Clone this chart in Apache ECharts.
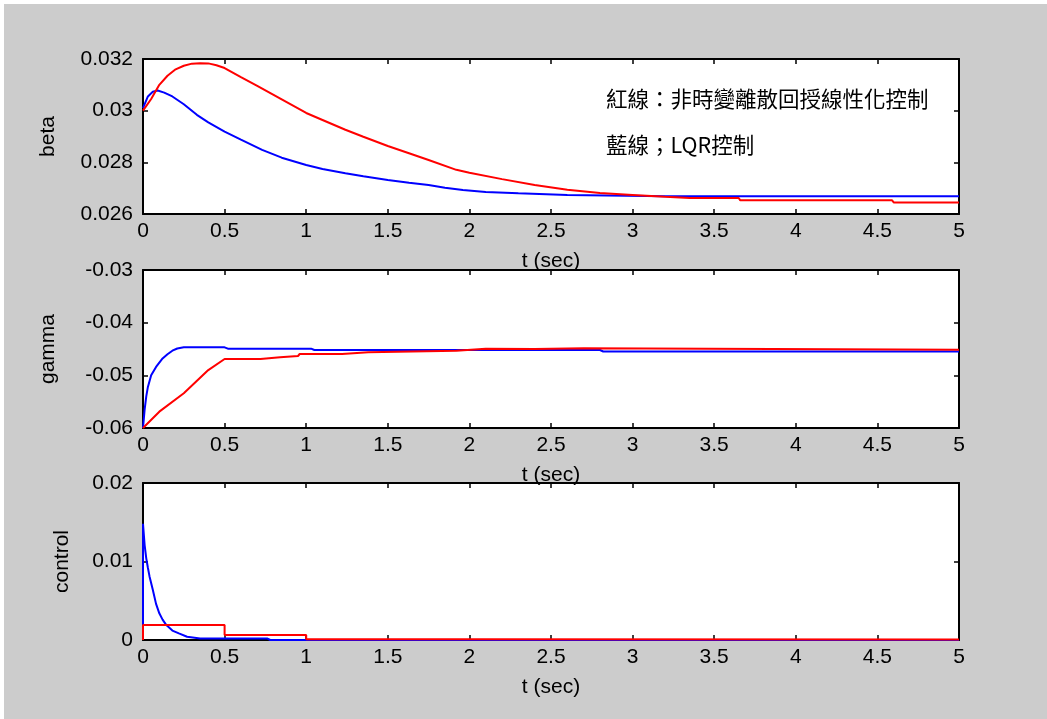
<!DOCTYPE html>
<html>
<head>
<meta charset="utf-8">
<script src="https://cdn.jsdelivr.net/npm/echarts@6/dist/echarts.min.js"></script>
<style>
html,body{margin:0;padding:0;background:#ffffff;}
#chart{position:absolute;left:0;top:0;width:1043px;height:715px;border-left:4px solid #fff;border-top:4px solid #fff;background:#cccccc;}
</style>
</head>
<body>
<div id="chart"></div>
<script>
// ---- data (time in sec) ----
const tBetaRed  = [0, 0.05, 0.1, 0.15, 0.2, 0.25, 0.3, 0.35, 0.4, 0.45, 0.5, 0.6, 0.7, 0.8, 0.9, 1.0, 1.1, 1.24, 1.35, 1.5, 1.63, 1.75, 1.92, 2.0, 2.2, 2.4, 2.6, 2.8, 3.0, 3.2, 3.35, 3.65, 3.66, 4.59, 4.6, 5.0];
const betaRed   = [0.0300, 0.03045, 0.03100, 0.03135, 0.03160, 0.03174, 0.03182, 0.03184, 0.03183, 0.03176, 0.03165, 0.03130, 0.03096, 0.03061, 0.03026, 0.02991, 0.02964, 0.02926, 0.02899, 0.02863, 0.02835, 0.02809, 0.02771, 0.02760, 0.02735, 0.02712, 0.02694, 0.02681, 0.02674, 0.02667, 0.02662, 0.02662, 0.02653, 0.02653, 0.02645, 0.02645];
const tBetaBlue = [0, 0.03, 0.06, 0.09, 0.13, 0.18, 0.25, 0.33, 0.4, 0.5, 0.6, 0.73, 0.85, 1.0, 1.1, 1.24, 1.35, 1.5, 1.63, 1.75, 1.85, 1.96, 2.1, 2.3, 2.6, 3.2, 5.0];
const betaBlue  = [0.0301, 0.03055, 0.03073, 0.03078, 0.03070, 0.03055, 0.03025, 0.02984, 0.02955, 0.02919, 0.02888, 0.02848, 0.02818, 0.02790, 0.02774, 0.02758, 0.02746, 0.02732, 0.02721, 0.02712, 0.02702, 0.02693, 0.02685, 0.02680, 0.02674, 0.02669, 0.02669];

const tGamRed   = [0, 0.1, 0.25, 0.4, 0.5, 0.72, 0.73, 0.84, 0.85, 0.95, 0.96, 1.22, 1.23, 1.38, 1.39, 1.92, 1.93, 2.1, 2.11, 2.4, 2.41, 2.7, 2.71, 5.0];
const gamRed    = [-0.0600, -0.0569, -0.0534, -0.0490, -0.0469, -0.0469, -0.04658, -0.04658, -0.04633, -0.04633, -0.04595, -0.04595, -0.04562, -0.04562, -0.04532, -0.04532, -0.04495, -0.04495, -0.0450, -0.0450, -0.04488, -0.04488, -0.04515, -0.04515];
const tGamBlue  = [0, 0.01, 0.02, 0.03, 0.05, 0.08, 0.12, 0.15, 0.18, 0.21, 0.25, 0.5, 0.52, 1.03, 1.05, 2.8, 2.82, 5.0];
const gamBlue   = [-0.0600, -0.0565, -0.0540, -0.0522, -0.0500, -0.0484, -0.0468, -0.0460, -0.04532, -0.0449, -0.04468, -0.04468, -0.04494, -0.04494, -0.04519, -0.04519, -0.04548, -0.04548];

const tCtrlRed  = [0, 0, 0.5, 0.5, 1.0, 1.0, 2.0, 2.0, 5.0];
const ctrlRed   = [0, 0.0019, 0.0019, 0.00064, 0.00064, 0.0001, 0.0001, 0.00005, 0.00005];
const tCtrlBlue = [0, 0, 0.01, 0.02, 0.03, 0.04, 0.06, 0.08, 0.1, 0.12, 0.143, 0.18, 0.22, 0.27, 0.35, 0.76, 0.78, 5.0];
const ctrlBlue  = [0, 0.0148, 0.0121, 0.0104, 0.0092, 0.0081, 0.0064, 0.0046, 0.0034, 0.0026, 0.0019, 0.0012, 0.00085, 0.00042, 0.0002, 0.0002, 0, 0];

const xTicks = { min: 0, max: 5, interval: 0.5 };
const yAxesDef = [
  { name: 'beta',    min: 0.026, max: 0.032, interval: 0.002, gap: 84 },
  { name: 'gamma',   min: -0.06, max: -0.03, interval: 0.01,  gap: 84 },
  { name: 'control', min: 0,     max: 0.02,  interval: 0.01,  gap: 70 }
];
const legendLines = ['紅線：非時變離散回授線性化控制', '藍線；LQR控制'];

// ---- chart ----
const pair = (ts, vs) => ts.map((t, i) => [t, vs[i]]);
const FONT = 'Liberation Sans, Arial, sans-serif';
const FS = 21;
const grids = [
  { left: 139, top: 55,  width: 816, height: 155 },
  { left: 139, top: 266, width: 816, height: 158 },
  { left: 139, top: 479, width: 816, height: 157 }
];
const lineStyle = { color: '#000', width: 2 };
const tickStyle = { show: true, inside: true, length: 5, lineStyle: { color: '#000', width: 1.5 } };

const xAxis = [], yAxis = [];
grids.forEach((g, i) => {
  xAxis.push({
    type: 'value', gridIndex: i, position: 'bottom', min: xTicks.min, max: xTicks.max, interval: xTicks.interval,
    name: 't (sec)', nameLocation: 'middle', nameGap: 37,
    nameTextStyle: { fontFamily: FONT, fontSize: FS, color: '#000' },
    axisLine: { show: true, onZero: false, lineStyle }, axisTick: tickStyle,
    axisLabel: { fontFamily: FONT, fontSize: FS, color: '#000', margin: 7 },
    splitLine: { show: false }
  });
  xAxis.push({
    type: 'value', gridIndex: i, position: 'top', min: xTicks.min, max: xTicks.max, interval: xTicks.interval,
    axisLine: { show: true, onZero: false, lineStyle }, axisTick: tickStyle,
    axisLabel: { show: false }, splitLine: { show: false }
  });
  const d = yAxesDef[i];
  yAxis.push({
    type: 'value', gridIndex: i, position: 'left', min: d.min, max: d.max, interval: d.interval,
    name: d.name, nameLocation: 'middle', nameGap: d.gap, nameRotate: 90,
    nameTextStyle: { fontFamily: FONT, fontSize: FS, color: '#000' },
    axisLine: { show: true, onZero: false, lineStyle }, axisTick: tickStyle,
    axisLabel: { fontFamily: FONT, fontSize: FS, color: '#000', margin: 10 },
    splitLine: { show: false }
  });
  yAxis.push({
    type: 'value', gridIndex: i, position: 'right', min: d.min, max: d.max, interval: d.interval,
    axisLine: { show: true, onZero: false, lineStyle }, axisTick: tickStyle,
    axisLabel: { show: false }, splitLine: { show: false }
  });
});

const mk = (data, color, gi) => ({
  type: 'line', data, xAxisIndex: gi * 2, yAxisIndex: gi * 2,
  showSymbol: false, symbol: 'none', lineStyle: { color, width: 2 }, z: 1, clip: true
});

const series = [
  mk(pair(tBetaBlue, betaBlue), '#0000ff', 0),
  mk(pair(tBetaRed, betaRed), '#ff0000', 0),
  mk(pair(tGamBlue, gamBlue), '#0000ff', 1),
  mk(pair(tGamRed, gamRed), '#ff0000', 1),
  mk(pair(tCtrlBlue, ctrlBlue), '#0000ff', 2),
  mk(pair(tCtrlRed, ctrlRed), '#ff0000', 2)
];

const chart = echarts.init(document.getElementById('chart'), null, { renderer: 'canvas' });
chart.setOption({
  backgroundColor: '#cccccc',
  animation: false,
  grid: grids.map(g => Object.assign({ show: true, backgroundColor: '#ffffff', borderWidth: 0 }, g)),
  xAxis, yAxis, series,
  graphic: legendLines.map((txt, i) => ({
    type: 'text', left: 602, top: i === 0 ? 84 : 130, z: 10,
    style: { text: txt, fontFamily: '"Noto Sans CJK TC", "Noto Sans CJK SC", sans-serif', fontSize: 21.5, fill: '#000' }
  }))
});
</script>
</body>
</html>
